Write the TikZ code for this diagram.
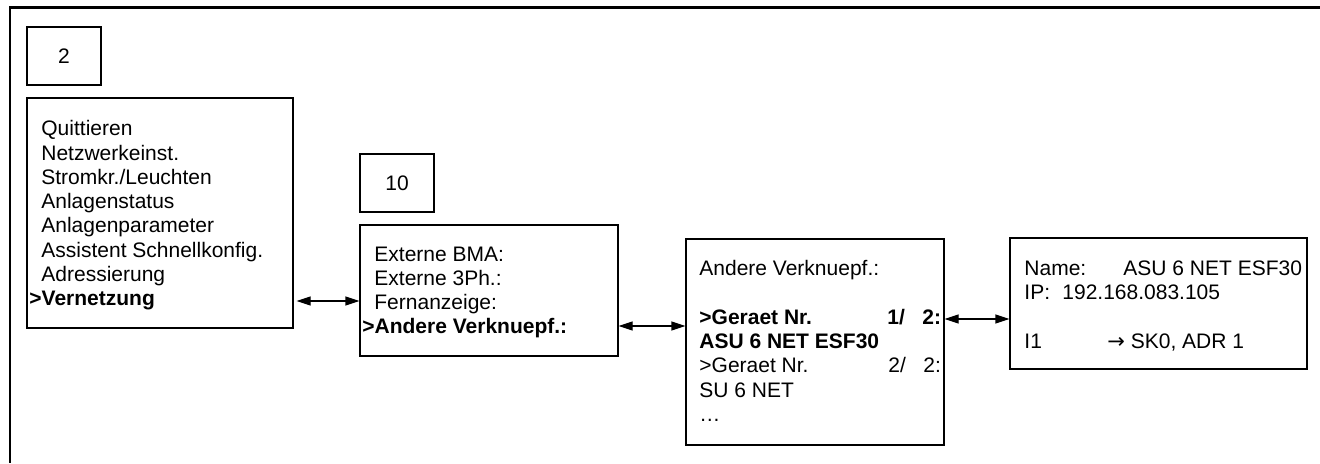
\documentclass[tikz,border=0pt]{standalone}
\usepackage{fontspec}
\setmainfont{Liberation Sans}
\newfontfamily\arrowfont{DejaVu Sans}
\usetikzlibrary{fit,arrows.meta}
\tikzset{
  frame/.style={line width=1.3pt},
  box/.style={draw, line width=0.6pt, inner sep=0pt},
  txt/.style={anchor=base west, inner sep=0pt, font=\fontsize{10.5}{12}\selectfont},
  num/.style={inner sep=0pt, font=\fontsize{10.5}{12}\selectfont},
  conn/.style={line width=0.6pt, {Triangle[length=7pt,width=4.5pt]}-{Triangle[length=7pt,width=4.5pt]}}
}
\begin{document}
\begin{tikzpicture}[x=0.5pt,y=-0.5pt]
\useasboundingbox (0,0) rectangle (1320,463);
% outer frame (top and left)
\coordinate (ftl) at (10,7.5);
\coordinate (ftr) at (1320,7.5);
\coordinate (fbl) at (10,463);
\draw[frame] (ftr) -- (ftl) -- (fbl);

% boxes
\node[box, fit={(27,27) (101,85)}] (n2) {};
\node[num] (t2) at (n2.center) {2};
\node[box, fit={(27,98) (293,328)}] (b1) {};
\node[box, fit={(360,154) (434,212)}] (n10) {};
\node[num] (t10) at (n10.center) {10};
\node[box, fit={(360,225) (618,356)}] (b2) {};
\node[box, fit={(686,239) (944,445)}] (b3) {};
\node[box, fit={(1010,238) (1307,369)}] (b4) {};

% box 1 text
\foreach \t [count=\i from 0] in {Quittieren,Netzwerkeinst.,Stromkr./Leuchten,Anlagenstatus,Anlagenparameter,Assistent Schnellkonfig.,Adressierung}
  \node[txt] (b1l\i) at (41,{135.7+24.3*\i}) {\t};
\node[txt] (b1l7) at (29,305.8) {\bfseries >Vernetzung};

% box 2 text
\foreach \t [count=\i from 0] in {Externe BMA:,Externe 3Ph.:,Fernanzeige:}
  \node[txt] (b2l\i) at (374,{261+24.3*\i}) {\t};
\node[txt] (b2l3) at (362,333.9) {\bfseries >Andere Verknuepf.:};

% box 3 text
\node[txt] (b3l0) at (699,275.5) {Andere Verknuepf.:};
\node[txt] (b3l1) at (699,324.5) {\bfseries >Geraet Nr.};
\node[txt] (b3l1a) at (887,324.5) {\bfseries 1/};
\node[txt] (b3l1b) at (922,324.5) {\bfseries 2:};
\node[txt] (b3l2) at (699,348.5) {\bfseries ASU 6 NET ESF30};
\node[txt] (b3l3) at (699,372.5) {>Geraet Nr.};
\node[txt] (b3l3a) at (888,372.5) {2/};
\node[txt] (b3l3b) at (923,372.5) {2:};
\node[txt] (b3l4) at (699,397) {SU 6 NET};
\node[txt] (b3l5) at (699,421.5) {\dots};

% box 4 text
\node[txt] (b4l0) at (1024,275) {Name:};
\node[txt] (b4l0a) at (1123,275) {ASU 6 NET ESF30};
\node[txt] (b4l1) at (1024,299.3) {IP:};
\node[txt] (b4l1a) at (1062,299.3) {192.168.083.105};
\node[txt] (b4l2) at (1024,348) {I1};
\node[txt] (b4l2a) at (1107,348) {{\arrowfont →} SK0, ADR 1};

% connectors
\coordinate (y1) at (0,301);
\coordinate (y2) at (0,326);
\coordinate (y3) at (0,319);
\draw[conn] ([xshift=1.5pt]b1.east |- y1) -- (b2.west |- y1);
\draw[conn] (b2.east |- y2) -- (b3.west |- y2);
\draw[conn] (b3.east |- y3) -- (b4.west |- y3);
\end{tikzpicture}
\end{document}
